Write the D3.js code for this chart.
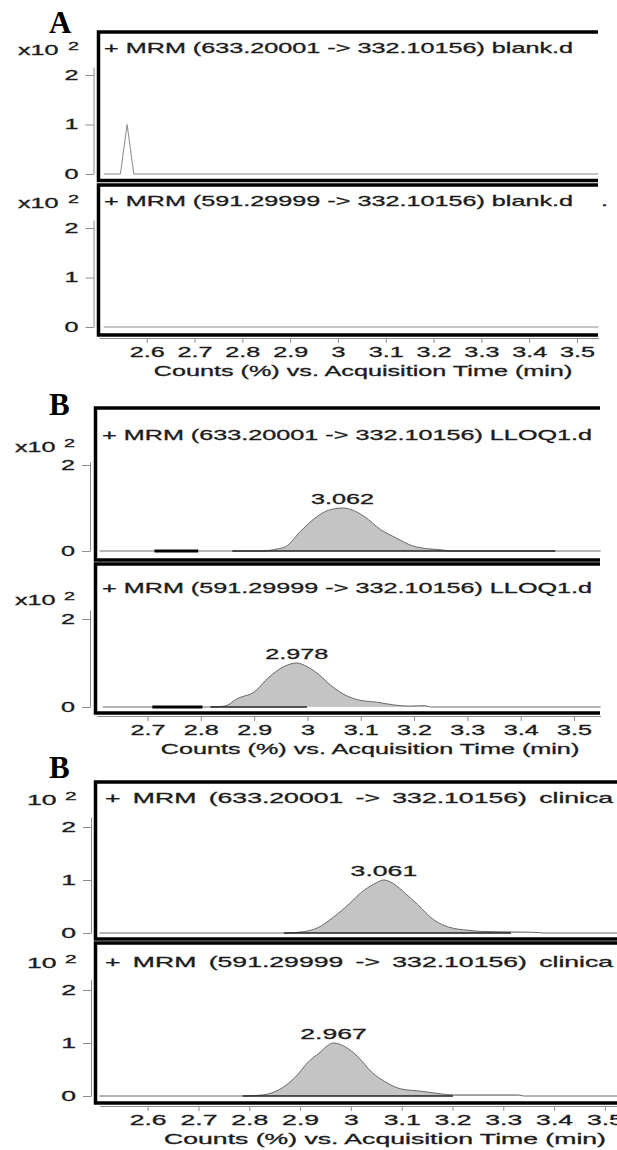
<!DOCTYPE html>
<html>
<head>
<meta charset="utf-8">
<script src="https://cdn.jsdelivr.net/npm/d3@7"></script>
<style>
body { margin: 0; background: #fff; }
svg { display: block; }
</style>
</head>
<body>
<svg id="chart" width="617" height="1150"></svg>
<script>
// tick values (min and x10^2 counts)
var timeTicksA = [2.6, 2.7, 2.8, 2.9, 3.0, 3.1, 3.2, 3.3, 3.4, 3.5];
var timeTicksB = [2.7, 2.8, 2.9, 3.0, 3.1, 3.2, 3.3, 3.4, 3.5];
var timeTicksC = [2.6, 2.7, 2.8, 2.9, 3.0, 3.1, 3.2, 3.3, 3.4, 3.5];
var countTicks = [0, 1, 2];
var countTicksLloq = [0, 2];

var axisTitle = 'Counts (%) vs. Acquisition Time (min)';

var titleBlank633 = '+ MRM (633.20001 -> 332.10156) blank.d';
var titleBlank591 = '+ MRM (591.29999 -> 332.10156) blank.d';
var titleLloq633 = '+ MRM (633.20001 -> 332.10156) LLOQ1.d';
var titleLloq591 = '+ MRM (591.29999 -> 332.10156) LLOQ1.d';
var titleClin633 = '+ MRM (633.20001 -> 332.10156) clinica';
var titleClin591 = '+ MRM (591.29999 -> 332.10156) clinica';

// traces: [time, counts x10^2]
var blank633 = [[2.51, 0], [2.545, 0], [2.559, 1.0], [2.573, 0], [3.545, 0]];
var blank591 = [[2.51, 0], [3.545, 0]];

var lloq633 = [[2.61, 0], [2.914, 0], [2.944, 0.05], [2.959, 0.1], [2.988, 0.47], [3.018, 0.8],
	[3.040, 0.95], [3.066, 1.0], [3.085, 0.95], [3.107, 0.8], [3.137, 0.5], [3.167, 0.3],
	[3.197, 0.12], [3.227, 0.05], [3.256, 0.02], [3.263, 0], [3.55, 0]];
var lloq591 = [[2.616, 0], [2.818, 0], [2.844, 0.02], [2.870, 0.2], [2.900, 0.34], [2.928, 0.68],
	[2.958, 0.93], [2.980, 1.0], [2.999, 0.92], [3.018, 0.77], [3.048, 0.45], [3.078, 0.23],
	[3.100, 0.15], [3.130, 0.11], [3.160, 0.05], [3.190, 0.02], [3.220, 0.03], [3.231, 0], [3.55, 0]];

var clin633 = [[2.505, 0], [2.868, 0], [2.903, 0.02], [2.935, 0.1], [2.966, 0.3], [2.998, 0.56],
	[3.021, 0.77], [3.045, 0.92], [3.065, 1.0], [3.084, 0.93], [3.108, 0.74], [3.131, 0.54],
	[3.163, 0.25], [3.193, 0.11], [3.232, 0.05], [3.256, 0.03], [3.315, 0.02], [3.37, 0.01],
	[3.378, 0], [3.6, 0]];
var clin591 = [[2.505, 0], [2.787, 0], [2.826, 0.02], [2.857, 0.11], [2.888, 0.33], [2.919, 0.67],
	[2.935, 0.79], [2.966, 1.0], [2.990, 0.92], [3.014, 0.74], [3.041, 0.45], [3.069, 0.26],
	[3.100, 0.13], [3.139, 0.09], [3.177, 0.04], [3.201, 0.02], [3.33, 0.02], [3.34, 0], [3.6, 0]];

// integration baselines [from, to]
var lloq633Thick = [[2.713, 2.795]];
var lloq633Base = [[2.859, 3.465]];
var lloq591Thick = [[2.709, 2.803]];
var lloq591Base = [[2.818, 2.999]];
var clin633Base = [[2.868, 3.315]];
var clin591Base = [[2.787, 3.201]];

var peakLloq633 = '3.062';
var peakLloq591 = '2.978';
var peakClin633 = '3.061';
var peakClin591 = '2.967';

var SANS = '"Liberation Sans", Arial, sans-serif';
var SERIF = '"Liberation Serif", "Times New Roman", serif';
var INK = '#1c1c1c';

var svg = d3.select('#chart');

var panels = [
	{
		letter: 'A', letterY: 33,
		frameLeft: 98.5, frameRight: 598, axisX: 93.5,
		xDomain: [2.5, 3.545], xRange: [98.9, 598.5], xTicks: timeTicksA,
		sx: 1.8, wordSpacing: 0, expLabel: 'x10', expX: 18, supX: 68, titleX: 104, axisTitleX: 363,
		subs: [
			{ top: 32, bottom: 180.5, zeroY: 174, unit: 49.5, yMax: 2.16, yTicks: countTicks,
				titleDy: 21, expDy: 23, title: titleBlank633, trace: blank633 },
			{ top: 185, bottom: 335, zeroY: 327, unit: 49.5, yMax: 2.16, yTicks: countTicks,
				titleDy: 21, expDy: 23, title: titleBlank591, trace: blank591, tail: '.' }
		]
	},
	{
		letter: 'B', letterY: 415,
		frameLeft: 95.5, frameRight: 600, axisX: 90,
		xDomain: [2.605, 3.55], xRange: [96.9, 600.6], xTicks: timeTicksB,
		sx: 1.8, wordSpacing: 0, expLabel: 'x10', expX: 15, supX: 64, titleX: 102, axisTitleX: 370,
		subs: [
			{ top: 408, bottom: 560, zeroY: 551, unit: 43, yMax: 2.07, yTicks: countTicksLloq,
				titleDy: 32, expDy: 44, title: titleLloq633, trace: lloq633, fill: true, smooth: true,
				thick: lloq633Thick, base: lloq633Base, peak: peakLloq633 },
			{ top: 564, bottom: 713, zeroY: 707, unit: 44, yMax: 2.2, yTicks: countTicksLloq,
				titleDy: 29, expDy: 41, title: titleLloq591, trace: lloq591, fill: true, smooth: true,
				thick: lloq591Thick, base: lloq591Base, peak: peakLloq591 }
		]
	},
	{
		letter: 'B', letterY: 778,
		frameLeft: 95.5, frameRight: 640, axisX: 91,
		xDomain: [2.505, 3.55], xRange: [99.4, 630.3], xTicks: timeTicksC,
		sx: 1.9, wordSpacing: 2.6, expLabel: '10', expX: 27, supX: 65, titleX: 105, axisTitleX: 385,
		subs: [
			{ top: 782, bottom: 939, zeroY: 933, unit: 53, yMax: 2.19, yTicks: countTicks,
				titleDy: 21, expDy: 23, title: titleClin633, trace: clin633, fill: true, smooth: true,
				base: clin633Base, peak: peakClin633 },
			{ top: 943, bottom: 1103, zeroY: 1096, unit: 53, yMax: 2.2, yTicks: countTicks,
				titleDy: 24, expDy: 25, title: titleClin591, trace: clin591, fill: true, smooth: true,
				base: clin591Base, peak: peakClin591 }
		]
	}
];

// text stretched sideways like the source figure (glyphs are wide)
function wideText(g, x, y, str, sx, size, anchor) {
	return g.append('text')
		.attr('transform', 'translate(' + x + ',' + y + ') scale(' + sx + ',1)')
		.attr('font-family', SANS)
		.attr('font-size', size)
		.attr('fill', INK)
		.attr('stroke', INK)
		.attr('stroke-width', 0.3)
		.attr('text-anchor', anchor || 'start')
		.text(str);
}

function styleAxis(ax) {
	ax.attr('font-family', SANS).attr('font-size', 14);
	ax.selectAll('path, line').attr('stroke', '#8c8c8c').attr('stroke-width', 1);
	ax.selectAll('text').attr('fill', INK).attr('stroke', INK).attr('stroke-width', 0.3);
}

function drawSub(g, p, s, x) {
	var y = d3.scaleLinear().domain([0, s.yMax]).range([s.zeroY, s.zeroY - s.yMax * s.unit]);

	// y axis
	var ay = g.append('g')
		.attr('transform', 'translate(' + p.axisX + ',0)')
		.call(d3.axisLeft(y).tickValues(s.yTicks).tickSize(8).tickSizeOuter(0).tickFormat(d3.format('d')));
	styleAxis(ay);
	ay.selectAll('text')
		.attr('x', -15 / p.sx)
		.attr('transform', 'scale(' + p.sx + ',1)');

	// scale label x10^2
	wideText(g, p.expX, s.top + s.expDy, p.expLabel, p.sx, 14);
	wideText(g, p.supX, s.top + s.expDy - 5, '2', p.sx, 11);

	wideText(g, p.titleX, s.top + s.titleDy, s.title, p.sx, 14)
		.attr('word-spacing', p.wordSpacing);
	if (s.tail) wideText(g, 601, s.top + s.titleDy, s.tail, p.sx, 14);

	var curve = s.smooth ? d3.curveMonotoneX : d3.curveLinear;
	if (s.fill) {
		var area = d3.area()
			.x(function(d) { return x(d[0]); })
			.y0(y(0))
			.y1(function(d) { return y(d[1]); })
			.curve(curve);
		g.append('path').datum(s.trace).attr('d', area).attr('fill', '#c4c4c4');
	}
	var line = d3.line()
		.x(function(d) { return x(d[0]); })
		.y(function(d) { return y(d[1]); })
		.curve(curve);
	g.append('path').datum(s.trace)
		.attr('d', line)
		.attr('fill', 'none')
		.attr('stroke', s.fill ? '#6a6a6a' : '#8a8a8a')
		.attr('stroke-width', 1);

	(s.base || []).forEach(function(seg) {
		g.append('line')
			.attr('x1', x(seg[0])).attr('x2', x(seg[1]))
			.attr('y1', y(0)).attr('y2', y(0))
			.attr('stroke', '#222').attr('stroke-width', 1.5);
	});
	(s.thick || []).forEach(function(seg) {
		g.append('line')
			.attr('x1', x(seg[0])).attr('x2', x(seg[1]))
			.attr('y1', y(0)).attr('y2', y(0))
			.attr('stroke', '#000').attr('stroke-width', 3);
	});

	if (s.peak) {
		var top = d3.greatest(s.trace, function(d) { return d[1]; });
		wideText(g, x(top[0]), y(top[1]) - 4, s.peak, p.sx, 14, 'middle');
	}

	// frame
	g.append('path')
		.attr('d', 'M' + p.frameRight + ',' + s.top + 'H' + p.frameLeft + 'V' + s.bottom + 'H' + p.frameRight)
		.attr('fill', 'none')
		.attr('stroke', '#000')
		.attr('stroke-width', 3.5);
}

function drawPanel(p) {
	var g = svg.append('g');
	var x = d3.scaleLinear().domain(p.xDomain).range(p.xRange);

	g.append('text')
		.attr('x', 49).attr('y', p.letterY)
		.attr('font-family', SERIF)
		.attr('font-weight', 'bold')
		.attr('font-size', 31)
		.attr('fill', '#000')
		.text(p.letter);

	p.subs.forEach(function(s) { drawSub(g, p, s, x); });

	var last = p.subs[p.subs.length - 1];
	var ax = g.append('g')
		.attr('transform', 'translate(0,' + (last.bottom + 3) + ')')
		.call(d3.axisBottom(x).tickValues(p.xTicks).tickSize(5).tickSizeOuter(0).tickPadding(4)
			.tickFormat(function(d) { return String(+d.toFixed(1)); }));
	styleAxis(ax);
	ax.selectAll('text').attr('transform', 'scale(' + p.sx + ',1)');

	wideText(g, p.axisTitleX, last.bottom + 41, axisTitle, p.sx, 14, 'middle');
}

panels.forEach(drawPanel);
</script>
</body>
</html>
